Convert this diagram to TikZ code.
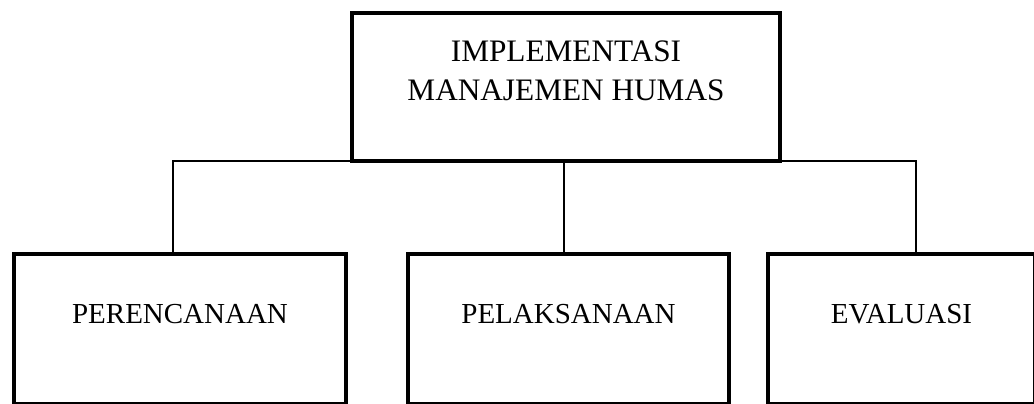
\documentclass[tikz,border=0pt]{standalone}
\usepackage{fontspec}
\setmainfont{Liberation Serif}
\begin{document}
\begin{tikzpicture}[x=0.02cm, y=-0.02cm,
        box/.style={draw, line width=2.3pt, inner sep=0pt, outer sep=0pt, anchor=north, align=center},
        stage/.style={box, font=\fontsize{16.5}{20}\selectfont, text height=1.4cm, text depth=1.6cm},
        link/.style={line width=1pt}]
        \useasboundingbox (0,0) rectangle (1034,403);
        \clip (0,0) rectangle (1034,403);

        % The main box
        \node[box, minimum width=8.56cm, text height=1.76cm, text depth=1.2cm,
            font=\fontsize{17.8}{22.2}\selectfont] (main) at (566,13) {IMPLEMENTASI\\MANAJEMEN HUMAS};

        % The three stages
        \node[stage, minimum width=6.64cm] (plan) at (180,254) {PERENCANAAN};
        \node[stage, minimum width=6.42cm] (exec) at (568.5,254) {PELAKSANAAN};
        \node[stage, minimum width=5.34cm] (eval) at (901.5,254) {EVALUASI};

        % The links
        \draw[link] (main.south) -| ([xshift=-0.14cm]plan.north);
        \draw[link] (main.south) -| ([xshift=0.29cm]eval.north);
        \draw[link] ([xshift=-0.04cm]main.south) -- ([xshift=-0.09cm]exec.north);
    \end{tikzpicture}
\end{document}
